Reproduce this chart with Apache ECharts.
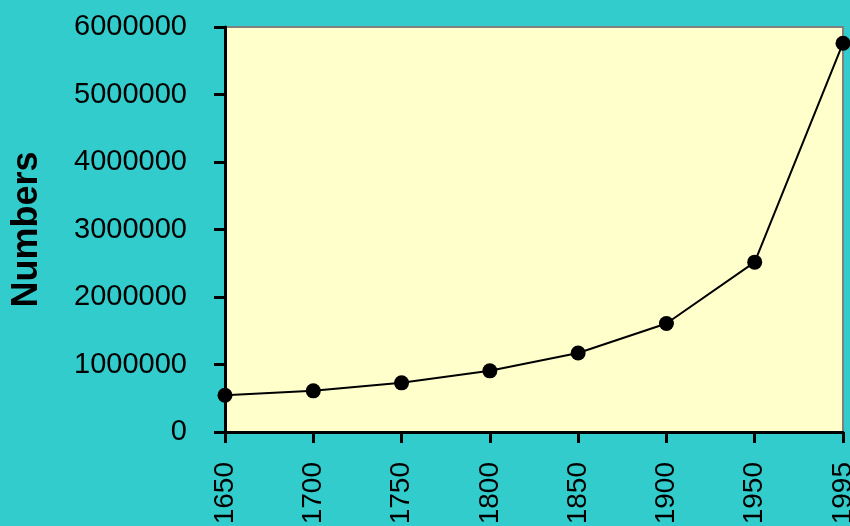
<!DOCTYPE html>
<html>
<head>
<meta charset="utf-8">
<script src="https://cdn.jsdelivr.net/npm/echarts@6/dist/echarts.min.js"></script>
<style>
  html, body { margin: 0; padding: 0; background: #33CCCC; }
  #chart { width: 850px; height: 526px; }
</style>
</head>
<body>
<div id="chart"></div>
<script>
// World population (thousands) by year
const years = ['1650', '1700', '1750', '1800', '1850', '1900', '1950', '1995'];
const population = [545000, 610000, 728000, 906000, 1171000, 1608000, 2516000, 5760000];
const yAxisTitle = 'Numbers';

const chart = echarts.init(document.getElementById('chart'));
const font = 'Liberation Sans, Arial, sans-serif';

chart.setOption({
  backgroundColor: '#33CCCC',
  animation: false,
  grid: {
    left: 225, right: 7, top: 27, bottom: 94,
    outerBoundsMode: 'none',
    containLabel: false,
    show: true,
    backgroundColor: '#FFFFCC',
    borderColor: '#808080',
    borderWidth: 2
  },
  xAxis: {
    type: 'category',
    data: years,
    boundaryGap: false,
    axisLine: { show: true, lineStyle: { color: '#000', width: 3 } },
    axisTick: { show: true, length: 11, lineStyle: { color: '#000', width: 3 }, alignWithLabel: true },
    axisLabel: {
      rotate: 90,
      margin: 30,
      color: '#000',
      fontFamily: font,
      fontSize: 28,
      interval: 0,
      hideOverlap: false
    },
    splitLine: { show: false }
  },
  yAxis: {
    type: 'value',
    min: 0,
    max: 6000000,
    interval: 1000000,
    name: yAxisTitle,
    nameLocation: 'middle',
    nameGap: 180,
    nameRotate: 90,
    nameTextStyle: { color: '#000', fontFamily: font, fontSize: 36, fontWeight: 'bold' },
    axisLine: { show: true, lineStyle: { color: '#000', width: 3 } },
    axisTick: { show: true, length: 11, lineStyle: { color: '#000', width: 3 } },
    axisLabel: {
      margin: 38,
      color: '#000',
      fontFamily: font,
      fontSize: 29,
      formatter: v => String(v)
    },
    splitLine: { show: false }
  },
  series: [{
    type: 'line',
    data: population,
    symbol: 'circle',
    symbolSize: 15,
    clip: false,
    itemStyle: { color: '#000' },
    lineStyle: { color: '#000', width: 2 }
  }]
});
</script>
</body>
</html>
